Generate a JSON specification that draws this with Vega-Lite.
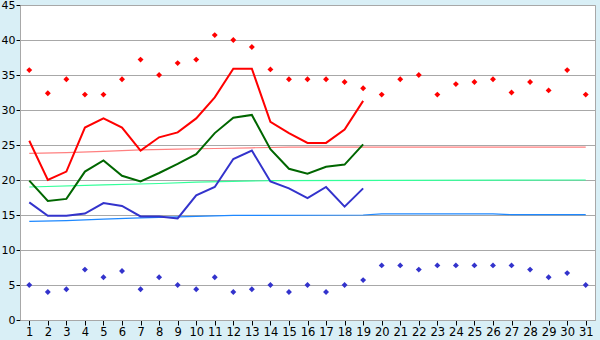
{
  "$schema": "https://vega.github.io/schema/vega-lite/v6.json",
  "width": 575,
  "height": 315,
  "autosize": {"type": "none"},
  "padding": {"left": 20, "top": 5, "right": 5, "bottom": 20},
  "background": "#D9EFF6",
  "config": {
    "view": {"fill": "white", "stroke": "#A8A8A8", "strokeWidth": 1},
    "font": "DejaVu Sans",
    "axis": {"labelFont": "DejaVu Sans", "labelFontSize": 11.5, "labelColor": "#000000", "tickColor": "#000000", "domainColor": "#A8A8A8", "title": null}
  },
  "datasets": {
    "obs": [
      {"day":1,"s":"max","v":25.6},{"day":2,"s":"max","v":20.0},{"day":3,"s":"max","v":21.2},{"day":4,"s":"max","v":27.5},{"day":5,"s":"max","v":28.8},{"day":6,"s":"max","v":27.5},{"day":7,"s":"max","v":24.2},{"day":8,"s":"max","v":26.1},{"day":9,"s":"max","v":26.8},{"day":10,"s":"max","v":28.8},{"day":11,"s":"max","v":31.8},{"day":12,"s":"max","v":35.9},{"day":13,"s":"max","v":35.9},{"day":14,"s":"max","v":28.3},{"day":15,"s":"max","v":26.7},{"day":16,"s":"max","v":25.3},{"day":17,"s":"max","v":25.3},{"day":18,"s":"max","v":27.2},{"day":19,"s":"max","v":31.3},
      {"day":1,"s":"mean","v":19.9},{"day":2,"s":"mean","v":17.0},{"day":3,"s":"mean","v":17.3},{"day":4,"s":"mean","v":21.2},{"day":5,"s":"mean","v":22.8},{"day":6,"s":"mean","v":20.6},{"day":7,"s":"mean","v":19.8},{"day":8,"s":"mean","v":21.0},{"day":9,"s":"mean","v":22.3},{"day":10,"s":"mean","v":23.7},{"day":11,"s":"mean","v":26.7},{"day":12,"s":"mean","v":28.9},{"day":13,"s":"mean","v":29.3},{"day":14,"s":"mean","v":24.4},{"day":15,"s":"mean","v":21.6},{"day":16,"s":"mean","v":20.9},{"day":17,"s":"mean","v":21.9},{"day":18,"s":"mean","v":22.2},{"day":19,"s":"mean","v":25.1},
      {"day":1,"s":"min","v":16.8},{"day":2,"s":"min","v":14.9},{"day":3,"s":"min","v":14.9},{"day":4,"s":"min","v":15.2},{"day":5,"s":"min","v":16.7},{"day":6,"s":"min","v":16.3},{"day":7,"s":"min","v":14.8},{"day":8,"s":"min","v":14.8},{"day":9,"s":"min","v":14.5},{"day":10,"s":"min","v":17.8},{"day":11,"s":"min","v":19.0},{"day":12,"s":"min","v":23.0},{"day":13,"s":"min","v":24.2},{"day":14,"s":"min","v":19.8},{"day":15,"s":"min","v":18.8},{"day":16,"s":"min","v":17.4},{"day":17,"s":"min","v":19.0},{"day":18,"s":"min","v":16.2},{"day":19,"s":"min","v":18.8}
    ],
    "norm": [
      {"day":1,"s":"nmax","v":23.8},{"day":3,"s":"nmax","v":23.9},{"day":5,"s":"nmax","v":24.1},{"day":7,"s":"nmax","v":24.3},{"day":9,"s":"nmax","v":24.4},{"day":11,"s":"nmax","v":24.5},{"day":13,"s":"nmax","v":24.6},{"day":15,"s":"nmax","v":24.7},{"day":31,"s":"nmax","v":24.7},
      {"day":1,"s":"nmean","v":19.0},{"day":5,"s":"nmean","v":19.3},{"day":8,"s":"nmean","v":19.5},{"day":10,"s":"nmean","v":19.7},{"day":14,"s":"nmean","v":19.9},{"day":31,"s":"nmean","v":20.0},
      {"day":1,"s":"nmin","v":14.1},{"day":3,"s":"nmin","v":14.2},{"day":5,"s":"nmin","v":14.4},{"day":7,"s":"nmin","v":14.6},{"day":10,"s":"nmin","v":14.8},{"day":12,"s":"nmin","v":14.95},{"day":19,"s":"nmin","v":15.0},{"day":20,"s":"nmin","v":15.15},{"day":26,"s":"nmin","v":15.15},{"day":27,"s":"nmin","v":15.05},{"day":31,"s":"nmin","v":15.05}
    ],
    "rec": [
      {"day":1,"s":"rhi","v":35.7},{"day":2,"s":"rhi","v":32.4},{"day":3,"s":"rhi","v":34.4},{"day":4,"s":"rhi","v":32.2},{"day":5,"s":"rhi","v":32.2},{"day":6,"s":"rhi","v":34.4},{"day":7,"s":"rhi","v":37.2},{"day":8,"s":"rhi","v":35.0},{"day":9,"s":"rhi","v":36.7},{"day":10,"s":"rhi","v":37.2},{"day":11,"s":"rhi","v":40.7},{"day":12,"s":"rhi","v":40.0},{"day":13,"s":"rhi","v":39.0},{"day":14,"s":"rhi","v":35.8},{"day":15,"s":"rhi","v":34.4},{"day":16,"s":"rhi","v":34.4},{"day":17,"s":"rhi","v":34.4},{"day":18,"s":"rhi","v":34.0},{"day":19,"s":"rhi","v":33.1},{"day":20,"s":"rhi","v":32.2},{"day":21,"s":"rhi","v":34.4},{"day":22,"s":"rhi","v":35.0},{"day":23,"s":"rhi","v":32.2},{"day":24,"s":"rhi","v":33.7},{"day":25,"s":"rhi","v":34.0},{"day":26,"s":"rhi","v":34.4},{"day":27,"s":"rhi","v":32.5},{"day":28,"s":"rhi","v":34.0},{"day":29,"s":"rhi","v":32.8},{"day":30,"s":"rhi","v":35.7},{"day":31,"s":"rhi","v":32.2},
      {"day":1,"s":"rlo","v":5.0},{"day":2,"s":"rlo","v":4.0},{"day":3,"s":"rlo","v":4.4},{"day":4,"s":"rlo","v":7.2},{"day":5,"s":"rlo","v":6.1},{"day":6,"s":"rlo","v":7.0},{"day":7,"s":"rlo","v":4.4},{"day":8,"s":"rlo","v":6.1},{"day":9,"s":"rlo","v":5.0},{"day":10,"s":"rlo","v":4.4},{"day":11,"s":"rlo","v":6.1},{"day":12,"s":"rlo","v":4.0},{"day":13,"s":"rlo","v":4.4},{"day":14,"s":"rlo","v":5.0},{"day":15,"s":"rlo","v":4.0},{"day":16,"s":"rlo","v":5.0},{"day":17,"s":"rlo","v":4.0},{"day":18,"s":"rlo","v":5.0},{"day":19,"s":"rlo","v":5.7},{"day":20,"s":"rlo","v":7.8},{"day":21,"s":"rlo","v":7.8},{"day":22,"s":"rlo","v":7.2},{"day":23,"s":"rlo","v":7.8},{"day":24,"s":"rlo","v":7.8},{"day":25,"s":"rlo","v":7.8},{"day":26,"s":"rlo","v":7.8},{"day":27,"s":"rlo","v":7.8},{"day":28,"s":"rlo","v":7.2},{"day":29,"s":"rlo","v":6.1},{"day":30,"s":"rlo","v":6.7},{"day":31,"s":"rlo","v":5.0}
    ]
  },
  "encoding": {
    "x": {"field": "day", "type": "quantitative",
      "scale": {"domain": [0.5, 31.5], "nice": false, "zero": false},
      "axis": {"values": [1,2,3,4,5,6,7,8,9,10,11,12,13,14,15,16,17,18,19,20,21,22,23,24,25,26,27,28,29,30,31], "grid": false, "tickSize": 5, "labelPadding": 1, "domain": true}},
    "y": {"field": "v", "type": "quantitative",
      "scale": {"domain": [0, 45], "nice": false},
      "axis": {"values": [0,5,10,15,20,25,30,35,40,45], "grid": true, "gridColor": "#A8A8A8", "gridOpacity": 1, "tickSize": 4, "labelPadding": 1, "labelFontSize": 11, "labelOffset": 0.5}},
    "color": {"field": "s", "type": "nominal", "legend": null,
      "scale": {"domain": ["max","mean","min","nmax","nmean","nmin","rhi","rlo"],
        "range": ["#FF0000","#006600","#3333CC","#FF8080","#33FF99","#1E88FF","#FF0000","#3333CC"]}}
  },
  "layer": [
    {"data": {"name": "norm"}, "mark": {"type": "line", "strokeWidth": 1.2, "interpolate": "linear"}},
    {"data": {"name": "obs"}, "mark": {"type": "line", "strokeWidth": 2}},
    {"data": {"name": "rec"}, "mark": {"type": "point", "shape": "diamond", "filled": true, "size": 35, "opacity": 1}}
  ]
}
